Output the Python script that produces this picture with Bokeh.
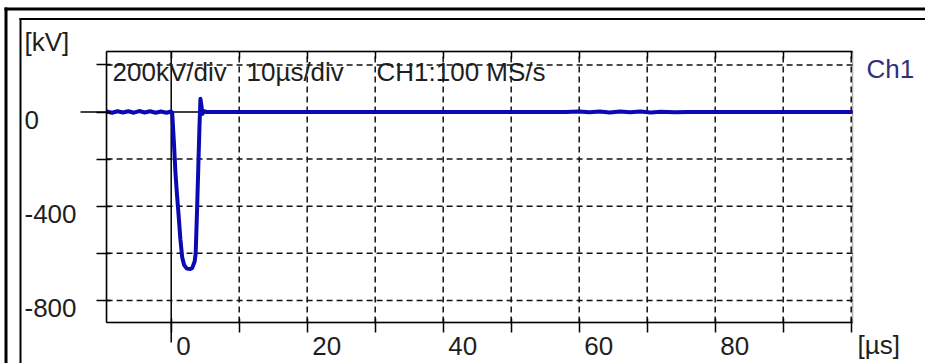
from bokeh.plotting import figure
from bokeh.models import (Range1d, FixedTicker, BoxAnnotation, Label,
                          LabelSet, ColumnDataSource, LinearAxis)
from bokeh.core.properties import value
from bokeh.embed import file_html
from bokeh.resources import INLINE

# ---- data ----
t_us = [-9.5, -8.7, -7.9, -7.1, -6.3, -5.5, -4.7, -3.9, -3.1, -2.3, -1.5, -0.7,
        0.0, 0.15, 0.4, 0.63, 0.85, 1.07, 1.35, 1.62, 1.9, 2.3, 2.8, 3.1, 3.3,
        3.45, 3.6, 3.8, 4.0, 4.15, 4.3, 4.45, 4.6, 4.8, 5.2, 10, 20, 30, 40, 50,
        58, 60, 61.5, 63, 64.5, 66, 67.5, 69, 70.5, 72, 74, 76, 85, 100.2]
ch1_kv = [2, -3, 3, -2, 3, -3, 4, -2, 3, -3, 2, -3,
          2, -6, -130, -261, -350, -431, -540, -618, -650, -665, -667, -662, -646,
          -635, -600, -420, -220, -70, 56, 25, -8, 4, 0, 0, 0, 0, 0, 0,
          0, 2, -1, 2, -2, 2, -1, 2, -2, 1, -1, 0, 0, 0]

x_ticks = [0, 10, 20, 30, 40, 50, 60, 70, 80, 90, 100]
y_ticks = [-800, -600, -400, -200, 0, 200]
x_label_vals = [0, 20, 40, 60, 80]
x_label_text = ["0", "20", "40", "60", "80"]
y_label_vals = [0, -400, -800]
y_label_text = ["0", "-400", "-800"]
header_texts = ["200kV/div", "10\u00b5s/div", "CH1:100 MS/s"]
x_unit = "[\u00b5s]"
y_unit = "[kV]"
channel = "Ch1"

# ---- layout (pixel geometry of the scope window) ----
W, H = 925, 363
X0PX, PX_PER_US = 170.7, 6.8          # pixel of t=0, pixels per microsecond
Y0PX, PX_PER_KV = 111.5, 47.1 / 200   # pixel of 0 kV, pixels per kV

def ux(px):  # canvas x -> data
    return (px - X0PX) / PX_PER_US

def uy(py):  # canvas y -> data
    return (Y0PX - py) / PX_PER_KV

XMIN, XMAX = -9.5, 100.2
YMIN, YMAX = -894, 257

FONT = "Liberation Sans"
FS = "26px"
TXT = "#1e1e1e"

p = figure(width=W, height=H, output_backend="svg", toolbar_location=None,
           x_range=Range1d(ux(0), ux(W)), y_range=Range1d(uy(H), uy(0)),
           min_border=0, min_border_left=0, min_border_right=0,
           min_border_top=0, min_border_bottom=0, title=None)
p.styles = {"margin-bottom": "-16px", "margin-right": "-16px"}
p.background_fill_color = "white"
p.border_fill_color = "white"
p.outline_line_color = None
p.xgrid.visible = False
p.ygrid.visible = False

def style_axis(ax, ticks, t_in, t_out):
    ax.ticker = FixedTicker(ticks=ticks)
    ax.axis_line_color = "black"
    ax.axis_line_width = 1.5
    ax.major_tick_line_color = "black"
    ax.major_tick_line_width = 1.5
    ax.major_tick_in = t_in
    ax.major_tick_out = t_out
    ax.minor_tick_line_color = None
    ax.major_label_text_font_size = "0px"
    ax.major_label_standoff = 0

bx = p.xaxis[0]
style_axis(bx, x_ticks, 4, 10)
bx.fixed_location = YMIN
bx.bounds = (XMIN, XMAX)

ly = p.yaxis[0]
style_axis(ly, y_ticks, 4, 10)
ly.fixed_location = XMIN
ly.bounds = (YMIN, YMAX)

ta = LinearAxis()
style_axis(ta, x_ticks, 7, 0)
ta.fixed_location = YMAX
ta.bounds = (XMIN, XMAX)
p.add_layout(ta, "above")

# dashed division lines
gx = [t for t in x_ticks if XMIN < t < XMAX and t != 0]
gy = [v for v in y_ticks if YMIN < v < YMAX and v != 0]
p.segment(x0=gx, y0=[YMIN] * len(gx), x1=gx, y1=[YMAX] * len(gx),
          line_color="#111111", line_width=1.5, line_dash="6 4")
p.segment(x0=[XMIN] * len(gy), y0=gy, x1=[XMAX] * len(gy), y1=gy,
          line_color="#111111", line_width=1.5, line_dash="6 4")

# plot box outline
p.add_layout(BoxAnnotation(left=XMIN, right=XMAX, top=YMAX, bottom=YMIN,
                           fill_alpha=0, line_color="black", line_width=1.5))

# solid zero lines (extend past the box like the scope does)
p.segment(x0=[0], y0=[uy(342)], x1=[0], y1=[YMAX], line_color="black", line_width=1.5)
p.segment(x0=[ux(80)], y0=[0], x1=[XMAX], y1=[0], line_color="black", line_width=1.5)

# waveform
p.line(t_us, ch1_kv, line_color="#0a0ab4", line_width=4, line_join="round")

# window frame lines (drawn as segments through the same scales)
p.segment(x0=[ux(4)], y0=[uy(8.5)], x1=[ux(W + 2)], y1=[uy(8.5)],
          line_color="black", line_width=3)
p.segment(x0=[ux(5.5)], y0=[uy(7)], x1=[ux(5.5)], y1=[uy(H + 2)],
          line_color="black", line_width=3)
p.segment(x0=[ux(19)], y0=[uy(18.5)], x1=[ux(W + 2)], y1=[uy(18.5)],
          line_color="black", line_width=2)
p.segment(x0=[ux(20)], y0=[uy(17.5)], x1=[ux(20)], y1=[uy(H + 2)],
          line_color="black", line_width=2)

# tick labels
ysrc = ColumnDataSource(dict(y=y_label_vals, text=y_label_text, x=[24] * len(y_label_vals)))
p.add_layout(LabelSet(x="x", y="y", text="text", source=ysrc, x_units="canvas",
                      y_units="data", y_offset=-8, text_align="left",
                      text_baseline="middle", text_font=value(FONT),
                      text_font_size=value(FS), text_color=TXT))
xsrc = ColumnDataSource(dict(x=x_label_vals, text=x_label_text, y=[345] * len(x_label_vals)))
p.add_layout(LabelSet(x="x", y="y", text="text", source=xsrc, x_units="data",
                      y_units="canvas", x_offset=5, text_align="left",
                      text_baseline="middle", text_font=value(FONT),
                      text_font_size=value(FS), text_color=TXT))

def lab(txt, x, y, color=TXT):
    p.add_layout(Label(x=x, y=y, x_units="canvas", y_units="canvas", text=txt,
                       text_align="left", text_baseline="middle", text_font=FONT,
                       text_font_size=FS, text_color=color))

lab(y_unit, 24, 41)
lab(x_unit, 857, 344)
lab(channel, 866, 68, "#30307a")
for txt, x in zip(header_texts, [112, 246, 376]):
    lab(txt, x, 71)

open("out.html", "w").write(file_html(p, INLINE))
